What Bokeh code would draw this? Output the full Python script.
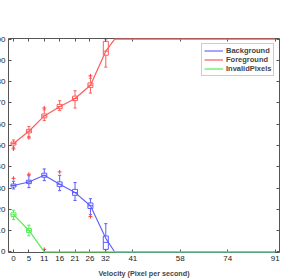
from bokeh.plotting import figure
from bokeh.models import Range1d, FixedTicker, LinearAxis, Legend, LegendItem
from bokeh.embed import file_html
from bokeh.resources import INLINE

# ---- data ----
velocity = [0, 5.35, 10.7, 16.05, 21.4, 26.75, 32.1, 35.2, 41.5, 58, 74.5, 91]
fg_line = [50.9, 56.7, 63.9, 68.2, 72.1, 78.3, 94.3, 100, 100, 100, 100, 100]
bg_line = [31.2, 32.9, 36.0, 31.8, 27.9, 21.7, 6.4, 0, 0, 0, 0, 0]
inv_line = [17.5, 10.1, 0, 0, 0, 0, 0, 0, 0, 0, 0, 0]

box_velocity = [0, 5.35, 10.7, 16.05, 21.4, 26.75, 32.1]
fg_q1 = [50.2, 55.9, 63.0, 67.3, 71.1, 77.3, 92.4]
fg_q3 = [51.6, 57.6, 64.8, 69.3, 73.2, 79.4, 98.9]
fg_med = [50.9, 56.7, 63.9, 68.3, 72.1, 78.3, 94.3]
fg_lo = [49.2, 54.3, 61.7, 66.4, 67.6, 74.6, 86.8]
fg_hi = [52.6, 58.9, 66.7, 71.0, 75.7, 81.6, 100]
fg_out_x = [0, 5.35, 10.7, 26.75]
fg_out_y = [48.4, 53.6, 67.6, 82.7]

bg_q1 = [30.5, 32.1, 35.1, 30.7, 26.6, 20.4, 1.2]
bg_q3 = [31.9, 33.7, 37.0, 32.9, 29.4, 23.0, 7.5]
bg_med = [31.2, 32.9, 36.0, 31.8, 27.9, 21.7, 4.5]
bg_lo = [29.6, 30.2, 33.5, 28.8, 24.2, 17.5, 0]
bg_hi = [33.2, 35.8, 39.0, 36.0, 32.6, 25.0, 13.3]
bg_out_x = [0, 5.35, 16.05, 26.75]
bg_out_y = [34.6, 36.5, 37.6, 16.6]

inv_velocity = [0, 5.35]
inv_q1 = [16.6, 9.2]
inv_q3 = [18.4, 11.0]
inv_med = [17.5, 10.1]
inv_lo = [15.2, 7.6]
inv_hi = [19.6, 12.6]
inv_out_x = [10.7]
inv_out_y = [1.2]

x_tick_pos = [0, 5.35, 10.7, 16.05, 21.4, 26.6, 32.0, 41.5, 58, 74.5, 91]
x_tick_labels = ["0", "5", "11", "16", "21", "26", "32", "41", "58", "74", "91"]
y_ticks = [0, 10, 20, 30, 40, 50, 60, 70, 80, 90, 100]

RED = "#ff5c5c"
BLUE = "#5c5cff"
GREEN = "#55ee55"
OUT = "#ff4040"
FONT = "Liberation Sans"

L = 24
p = figure(width=306, height=272, x_range=Range1d(-1.74, 92.5), y_range=Range1d(-0.25, 100.25),
           output_backend="svg", toolbar_location=None,
           min_border_left=L, min_border_right=11, min_border_top=30, min_border_bottom=27)
p.styles = {"margin-left": f"-{L - 8}px", "margin-top": "8px", "margin-bottom": "-8px"}
p.outline_line_color = None
p.xgrid.visible = False
p.ygrid.visible = False
p.background_fill_color = "white"

HW = 0.87  # half box width
CW = 0.55  # half cap width

def boxes(xs, q1, q3, med, lo, hi, color):
    p.quad(left=[x - HW for x in xs], right=[x + HW for x in xs], bottom=q1, top=q3,
           fill_color=None, line_color=color, line_width=1)
    p.segment(x0=[x - HW for x in xs], x1=[x + HW for x in xs], y0=med, y1=med,
              line_color=color, line_width=1)
    p.segment(x0=xs, x1=xs, y0=q3, y1=hi, line_color=color, line_width=1)
    p.segment(x0=xs, x1=xs, y0=q1, y1=lo, line_color=color, line_width=1)
    p.segment(x0=[x - CW for x in xs], x1=[x + CW for x in xs], y0=hi, y1=hi, line_color=color, line_width=1)
    p.segment(x0=[x - CW for x in xs], x1=[x + CW for x in xs], y0=lo, y1=lo, line_color=color, line_width=1)

boxes(box_velocity, fg_q1, fg_q3, fg_med, fg_lo, fg_hi, RED)
boxes(box_velocity, bg_q1, bg_q3, bg_med, bg_lo, bg_hi, BLUE)
boxes(inv_velocity, inv_q1, inv_q3, inv_med, inv_lo, inv_hi, GREEN)

for ox, oy in ((fg_out_x, fg_out_y), (bg_out_x, bg_out_y), (inv_out_x, inv_out_y)):
    p.scatter(ox, oy, marker="cross", size=4, line_color=OUT, line_width=1)

r_bg = p.line(velocity, bg_line, line_color=BLUE, line_width=1.1, level="overlay")
r_fg = p.line(velocity, fg_line, line_color=RED, line_width=1.2, level="overlay")
r_inv = p.line(velocity, inv_line, line_color=GREEN, line_width=1.2, level="overlay")

legend = Legend(items=[LegendItem(label="Background", renderers=[r_bg]),
                       LegendItem(label="Foreground", renderers=[r_fg]),
                       LegendItem(label="InvalidPixels", renderers=[r_inv])],
                location=(193, 176))
legend.label_text_font = FONT
legend.label_text_font_style = "bold"
legend.label_text_font_size = "7.5px"
legend.label_height = 9
legend.glyph_height = 9
legend.glyph_width = 19
legend.spacing = 0
legend.padding = 2
legend.margin = 0
legend.label_standoff = 3
legend.border_line_color = "#999999"
legend.border_line_width = 1
legend.background_fill_alpha = 1
p.add_layout(legend, "center")

def style_axis(ax, labels=True):
    ax.axis_line_color = "#555555"
    ax.major_tick_line_color = "#555555"
    ax.major_tick_in = 3
    ax.major_tick_out = 0
    ax.minor_tick_line_color = None
    ax.major_label_text_font = FONT
    ax.major_label_text_font_size = "8px"
    ax.major_label_text_color = "#222222"
    ax.major_label_standoff = 3
    if not labels:
        ax.major_label_text_font_size = "0px"
        ax.major_label_text_color = None

xt = FixedTicker(ticks=x_tick_pos)
yt = FixedTicker(ticks=y_ticks)
p.xaxis.ticker = xt
p.xaxis.major_label_overrides = {k: v for k, v in zip(x_tick_pos, x_tick_labels)}
p.yaxis.ticker = yt
style_axis(p.xaxis[0])
style_axis(p.yaxis[0])
p.xaxis.axis_label = "Velocity (Pixel per second)"
p.xaxis.axis_label_text_font = FONT
p.xaxis.axis_label_text_font_style = "bold"
p.xaxis.axis_label_text_font_size = "7.2px"
p.xaxis.axis_label_standoff = 5

top = LinearAxis(ticker=FixedTicker(ticks=x_tick_pos))
style_axis(top, labels=False)
p.add_layout(top, "above")
right = LinearAxis(ticker=FixedTicker(ticks=y_ticks))
style_axis(right, labels=False)
p.add_layout(right, "right")

open("out.html", "w").write(file_html(p, INLINE))
